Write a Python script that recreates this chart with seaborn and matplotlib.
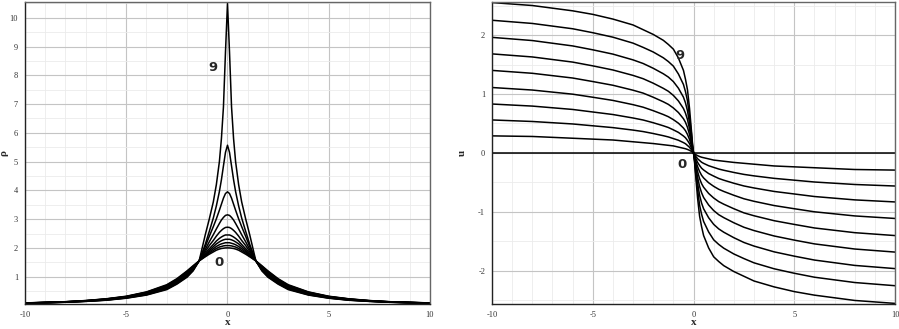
import matplotlib
matplotlib.use("Agg")
import matplotlib.pyplot as plt
from matplotlib.ticker import MultipleLocator
import numpy as np
import pandas as pd
import seaborn as sns


# Density curves rho (right half, x >= 0), curves 0..9
# ----------------------------------------------------
rho_x = [0, 0.1, 0.2, 0.3, 0.4, 0.55, 0.7, 0.9, 1.1, 1.4, 1.7, 2, 2.5, 3, 4, 5, 6, 7, 8, 10]
rho_0 = [2.0, 2.0, 1.99, 1.98, 1.96, 1.92, 1.86, 1.78, 1.69, 1.55, 1.38, 1.2, 0.93, 0.72, 0.47, 0.32, 0.23, 0.17, 0.13, 0.087]
rho_1 = [2.08, 2.08, 2.07, 2.05, 2.03, 1.98, 1.91, 1.82, 1.71, 1.55, 1.36, 1.18, 0.91, 0.70, 0.46, 0.31, 0.225, 0.167, 0.128, 0.085]
rho_2 = [2.18, 2.18, 2.16, 2.14, 2.11, 2.05, 1.97, 1.86, 1.74, 1.55, 1.34, 1.15, 0.89, 0.68, 0.45, 0.305, 0.22, 0.163, 0.126, 0.083]
rho_3 = [2.30, 2.30, 2.28, 2.25, 2.21, 2.14, 2.04, 1.91, 1.77, 1.55, 1.32, 1.13, 0.87, 0.66, 0.435, 0.30, 0.215, 0.16, 0.123, 0.081]
rho_4 = [2.45, 2.45, 2.42, 2.38, 2.33, 2.24, 2.12, 1.97, 1.81, 1.55, 1.30, 1.10, 0.85, 0.645, 0.42, 0.29, 0.21, 0.157, 0.121, 0.08]
rho_5 = [2.72, 2.71, 2.67, 2.61, 2.54, 2.41, 2.26, 2.08, 1.87, 1.55, 1.28, 1.08, 0.82, 0.625, 0.41, 0.28, 0.202, 0.153, 0.119, 0.078]
rho_6 = [3.15, 3.13, 3.06, 2.97, 2.85, 2.66, 2.46, 2.21, 1.94, 1.55, 1.26, 1.05, 0.80, 0.61, 0.40, 0.273, 0.197, 0.15, 0.117, 0.076]
rho_7 = [3.95, 3.89, 3.73, 3.52, 3.31, 3.01, 2.74, 2.40, 2.04, 1.55, 1.24, 1.03, 0.78, 0.59, 0.385, 0.265, 0.19, 0.147, 0.114, 0.074]
rho_8 = [5.57, 5.32, 4.85, 4.37, 3.96, 3.46, 3.04, 2.57, 2.12, 1.55, 1.22, 1.0, 0.76, 0.57, 0.37, 0.258, 0.185, 0.143, 0.112, 0.072]
rho_9 = [10.5, 8.8, 6.9, 5.8, 5.0, 4.2, 3.6, 3.0, 2.45, 1.55, 1.2, 0.98, 0.74, 0.55, 0.36, 0.25, 0.18, 0.14, 0.11, 0.07]
rho_curves = [rho_0, rho_1, rho_2, rho_3, rho_4, rho_5, rho_6, rho_7, rho_8, rho_9]

# Velocity curves u (left half, x <= 0), curves 0..9
# --------------------------------------------------
u_x = [-10, -8, -6, -5, -4, -3, -2.5, -2, -1.5, -1.25, -1, -0.75, -0.5, -0.4, -0.3, -0.2, -0.15, -0.1, -0.05, 0]
u_0 = [0] * len(u_x)
u_1 = [0.29, 0.28, 0.25, 0.235, 0.22, 0.19, 0.175, 0.16, 0.14, 0.13, 0.12, 0.10, 0.08, 0.072, 0.06, 0.045, 0.035, 0.026, 0.015, 0]
u_2 = [0.56, 0.534, 0.492, 0.461, 0.430, 0.388, 0.363, 0.330, 0.293, 0.272, 0.244, 0.216, 0.176, 0.157, 0.127, 0.097, 0.074, 0.055, 0.028, 0]
u_3 = [0.83, 0.795, 0.738, 0.695, 0.652, 0.593, 0.559, 0.513, 0.461, 0.432, 0.392, 0.349, 0.288, 0.258, 0.212, 0.158, 0.120, 0.087, 0.042, 0]
u_4 = [1.11, 1.067, 0.997, 0.945, 0.891, 0.819, 0.776, 0.717, 0.652, 0.615, 0.565, 0.505, 0.423, 0.378, 0.314, 0.23, 0.175, 0.125, 0.058, 0]
u_5 = [1.40, 1.351, 1.271, 1.211, 1.148, 1.064, 1.015, 0.945, 0.868, 0.824, 0.763, 0.686, 0.581, 0.52, 0.434, 0.315, 0.238, 0.166, 0.074, 0]
u_6 = [1.68, 1.628, 1.541, 1.477, 1.407, 1.315, 1.259, 1.183, 1.096, 1.046, 0.976, 0.882, 0.754, 0.675, 0.567, 0.41, 0.307, 0.21, 0.091, 0]
u_7 = [1.96, 1.906, 1.815, 1.749, 1.676, 1.578, 1.517, 1.436, 1.343, 1.287, 1.210, 1.098, 0.946, 0.85, 0.715, 0.51, 0.382, 0.26, 0.108, 0]
u_8 = [2.25, 2.196, 2.106, 2.039, 1.963, 1.862, 1.79, 1.712, 1.614, 1.55, 1.472, 1.339, 1.161, 1.04, 0.883, 0.62, 0.467, 0.32, 0.128, 0]
u_9 = [2.55, 2.50, 2.41, 2.35, 2.27, 2.17, 2.09, 2.01, 1.91, 1.84, 1.76, 1.61, 1.40, 1.25, 1.07, 0.76, 0.56, 0.36, 0.15, 0]
u_curves = [u_0, u_1, u_2, u_3, u_4, u_5, u_6, u_7, u_8, u_9]


def build_rho_frame():
    # rho is even in x: mirror the right half
    rows = []
    xs = np.array(rho_x, dtype=float)
    full_x = np.concatenate([-xs[::-1], xs[1:]])
    for k, vals in enumerate(rho_curves):
        v = np.array(vals, dtype=float)
        full_v = np.concatenate([v[::-1], v[1:]])
        rows.append(pd.DataFrame({"x": full_x, "val": full_v, "curve": k}))
    return pd.concat(rows, ignore_index=True)


def build_u_frame():
    # u is odd in x: mirror the left half with a sign change
    rows = []
    xs = np.array(u_x, dtype=float)
    full_x = np.concatenate([xs, -xs[::-1][1:]])
    for k, vals in enumerate(u_curves):
        v = np.array(vals, dtype=float)
        full_v = np.concatenate([v, -v[::-1][1:]])
        rows.append(pd.DataFrame({"x": full_x, "val": full_v, "curve": k}))
    return pd.concat(rows, ignore_index=True)


def style_axes(ax, ymajor, yminor):
    ax.set_xlim(-10, 10)
    ax.xaxis.set_major_locator(MultipleLocator(5))
    ax.xaxis.set_minor_locator(MultipleLocator(1))
    ax.yaxis.set_major_locator(MultipleLocator(ymajor))
    ax.yaxis.set_minor_locator(MultipleLocator(yminor))
    ax.grid(which="major", color="#c4c4c4", lw=0.8)
    ax.grid(which="minor", color="#ebebeb", lw=0.6)
    ax.set_axisbelow(True)
    ax.tick_params(which="major", direction="out", length=3, width=0.8,
                   labelsize=6, colors="#333333", pad=2)
    ax.tick_params(which="minor", direction="out", length=2, width=0.6,
                   colors="#333333")
    for side in ["left", "bottom"]:
        ax.spines[side].set_color("#222222")
        ax.spines[side].set_linewidth(1.0)
    for side in ["top", "right"]:
        ax.spines[side].set_color("#666666")
        ax.spines[side].set_linewidth(1.0)


sns.set_style("white")
plt.rcParams["axes.unicode_minus"] = False
fig = plt.figure(figsize=(8.99, 3.29), dpi=100)
ax1 = fig.add_axes([0.0278, 0.076, 0.4505, 0.918])
ax2 = fig.add_axes([0.5473, 0.076, 0.4483, 0.918])

rho_df = build_rho_frame()
u_df = build_u_frame()

sns.lineplot(data=rho_df, x="x", y="val", units="curve", estimator=None,
             sort=False, color="black", lw=1.1, ax=ax1)
sns.lineplot(data=u_df, x="x", y="val", units="curve", estimator=None,
             sort=False, color="black", lw=1.1, ax=ax2)

style_axes(ax1, 1, 0.5)
ax1.set_ylim(0.05, 10.55)
ax1.set_yticks(range(1, 11))

style_axes(ax2, 1, 0.5)
ax2.set_ylim(-2.56, 2.56)

for ax in [ax1, ax2]:
    for lab in ax.get_xticklabels() + ax.get_yticklabels():
        lab.set_family("Liberation Serif")

# Axis labels
ax1.set_xlabel("x", fontsize=8, fontweight="bold", family="Liberation Serif")
ax1.set_ylabel("ρ", fontsize=8, fontweight="bold", family="Liberation Serif")
ax2.set_xlabel("x", fontsize=8, fontweight="bold", family="Liberation Serif")
ax2.set_ylabel("u", fontsize=8, fontweight="bold", family="Liberation Serif")
ax1.xaxis.set_label_coords(0.5, -0.045)
ax2.xaxis.set_label_coords(0.5, -0.045)
ax1.yaxis.set_label_coords(-0.042, 0.5)
ax2.yaxis.set_label_coords(-0.062, 0.5)

# Curve annotations
ax1.text(-0.72, 8.26, "9", fontsize=9.5, fontweight="bold", ha="center", va="center")
ax1.text(-0.42, 1.49, "0", fontsize=9.5, fontweight="bold", ha="center", va="center")
ax2.text(-0.65, 1.66, "9", fontsize=9.5, fontweight="bold", ha="center", va="center")
ax2.text(-0.55, -0.20, "0", fontsize=9.5, fontweight="bold", ha="center", va="center")

fig.savefig("out.png", dpi=100)
